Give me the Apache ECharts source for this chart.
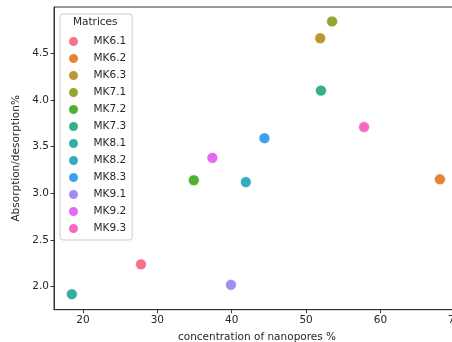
<!DOCTYPE html>
<html>
<head>
<meta charset="utf-8">
<script src="https://cdn.jsdelivr.net/npm/echarts@6/dist/echarts.min.js"></script>
<style>html,body{margin:0;padding:0;background:#fff}#c{width:452px;height:342px}</style>
</head>
<body>
<div id="c"></div>
<script>
const categories = ['MK6.1','MK6.2','MK6.3','MK7.1','MK7.2','MK7.3','MK8.1','MK8.2','MK8.3','MK9.1','MK9.2','MK9.3'];
const xValues = [27.8, 68.0, 51.9, 53.5, 34.9, 52.0, 18.5, 41.9, 44.4, 39.9, 37.4, 57.8];
const yValues = [2.24, 3.15, 4.66, 4.84, 3.14, 4.10, 1.92, 3.12, 3.59, 2.02, 3.38, 3.71];
const colors = ['#f77189','#e68332','#bb9832','#97a431','#50b131','#34af8a','#36ada4','#38aabf','#3ba3ec','#a48cf4','#e866f4','#f668c2'];
const xTicks = [20, 30, 40, 50, 60, 70];
const yTicks = [2.0, 2.5, 3.0, 3.5, 4.0, 4.5];

const font = 'DejaVu Sans';
const txt = '#262626';
const chart = echarts.init(document.getElementById('c'), null, {renderer: 'canvas'});
const series = categories.map((name, i) => ({
  name: name,
  type: 'scatter',
  symbol: 'circle',
  symbolSize: 11,
  itemStyle: {color: colors[i], borderColor: '#fff', borderWidth: 0.7, opacity: 1},
  data: [[xValues[i], yValues[i]]],
  z: 3
}));
chart.setOption({
  animation: false,
  backgroundColor: '#fff',
  color: colors,
  grid: {left: 54, top: 7, width: 406, height: 302.7, show: true, borderColor: '#333', borderWidth: 1, backgroundColor: 'transparent', outerBoundsMode: 'none', containLabel: false},
  xAxis: {
    type: 'value', min: 16.1, max: 70.7,
    name: 'concentration of nanopores %', nameLocation: 'middle', nameGap: 22,
    nameTextStyle: {fontFamily: font, fontSize: 10.5, color: txt},
    axisLine: {show: true, onZero: false, lineStyle: {color: '#333', width: 1}},
    axisTick: {show: true, length: 3.5, customValues: xTicks, lineStyle: {color: '#333'}},
    axisLabel: {customValues: xTicks, fontFamily: font, fontSize: 10.5, color: txt, margin: 5, formatter: v => String(Math.round(v))},
    splitLine: {show: false}
  },
  yAxis: {
    type: 'value', min: 1.754, max: 4.995,
    name: 'Absorption/desorption%', nameLocation: 'middle', nameGap: 31,
    nameTextStyle: {fontFamily: font, fontSize: 10.5, color: txt},
    axisLine: {show: true, onZero: false, lineStyle: {color: '#333', width: 1}},
    axisTick: {show: true, length: 3.5, customValues: yTicks, lineStyle: {color: '#333'}},
    axisLabel: {customValues: yTicks, fontFamily: font, fontSize: 10.5, color: txt, margin: 5, formatter: v => v.toFixed(1)},
    splitLine: {show: false}
  },
  legend: {
    orient: 'vertical', left: 60, top: 14,
    padding: [21, 6, 5, 7],
    itemWidth: 20, itemHeight: 11, itemGap: 4,
    icon: 'circle',
    backgroundColor: 'rgba(255,255,255,0.8)',
    borderColor: '#cccccc', borderWidth: 1, borderRadius: 3,
    textStyle: {fontFamily: font, fontSize: 10.5, color: txt, padding: [0, 0, 0, 5]},
    data: categories
  },
  graphic: [{
    type: 'text', left: 73, top: 17, z: 100,
    style: {text: 'Matrices', fontFamily: font, fontSize: 10.5, fill: txt}
  }],
  series: series
});
</script>
</body>
</html>
